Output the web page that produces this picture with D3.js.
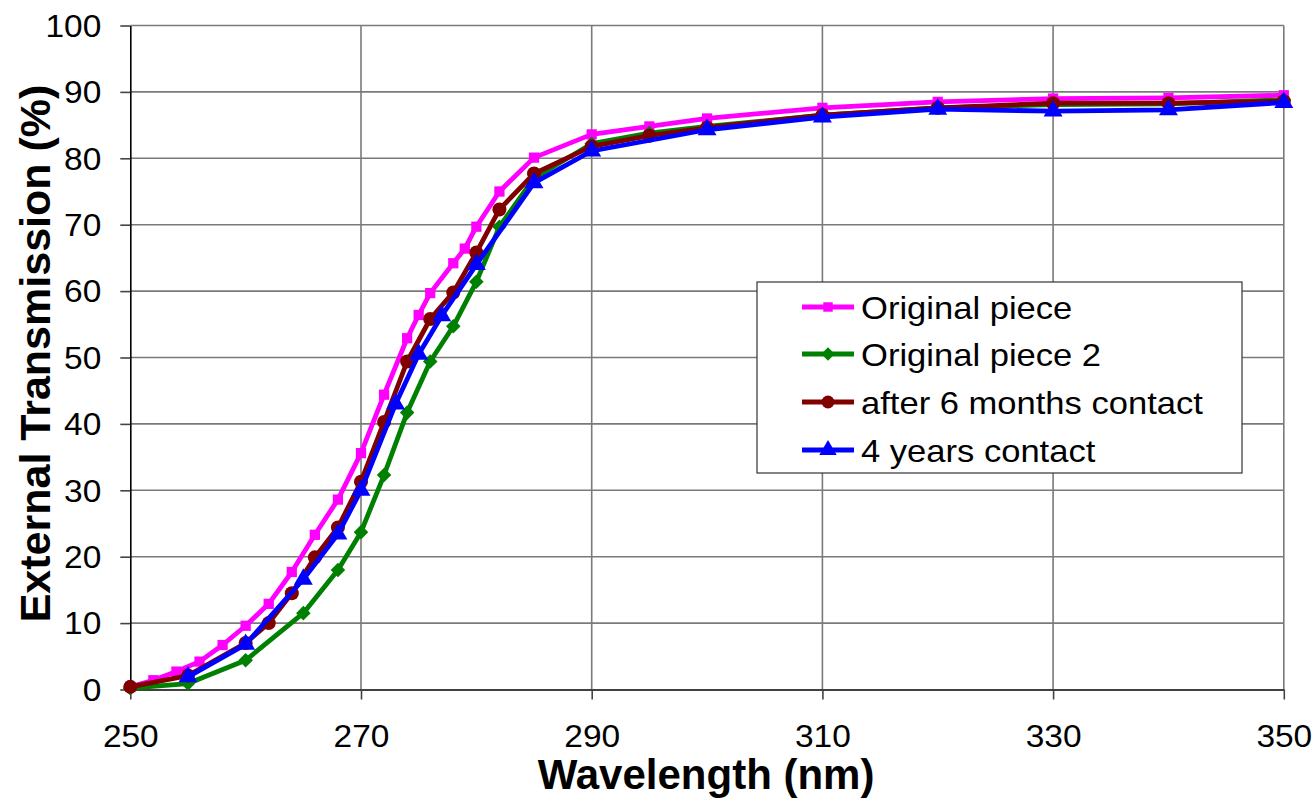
<!DOCTYPE html>
<html>
<head>
<meta charset="utf-8">
<script src="https://cdn.jsdelivr.net/npm/d3@7"></script>
<style>
  html, body { margin: 0; padding: 0; background: #fff; }
  svg { display: block; font-family: "Liberation Sans", Arial, sans-serif; }
</style>
</head>
<body>
<svg id="chart" width="1313" height="798"></svg>
<script>
// Wavelength grids (nm) and transmission values (%) for each sample
const wlOriginal = [250, 252, 254, 256, 258, 260, 262, 264, 266, 268, 270, 272, 274, 275, 276, 278, 279, 280, 282, 285, 290, 295, 300, 310, 320, 330, 340, 350];
const tOriginal  = [0.4, 1.4, 2.7, 4.2, 6.7, 9.6, 12.9, 17.7, 23.3, 28.6, 35.6, 44.4, 52.9, 56.4, 59.7, 64.2, 66.4, 69.7, 75.0, 80.1, 83.6, 84.8, 86.0, 87.6, 88.5, 89.0, 89.1, 89.5];

const wlOriginal2 = [250, 255, 260, 265, 268, 270, 272, 274, 276, 278, 280, 282, 285, 290, 295, 300, 310, 320, 330, 340, 350];
const tOriginal2  = [0.2, 0.9, 4.4, 11.5, 18.0, 23.7, 32.3, 41.7, 49.4, 54.7, 61.4, 69.7, 77.0, 82.2, 83.8, 84.8, 86.5, 87.6, 88.1, 88.2, 88.8];

const wlSixMonths = [250, 255, 260, 262, 264, 266, 268, 270, 272, 274, 276, 278, 280, 282, 285, 290, 295, 300, 310, 320, 330, 340, 350];
const tSixMonths  = [0.4, 2.1, 7.0, 10.0, 14.5, 19.9, 24.4, 31.3, 40.3, 49.4, 55.8, 59.8, 65.8, 72.3, 77.7, 81.8, 83.4, 84.6, 86.5, 87.6, 88.3, 88.3, 88.6];

const wlFourYears = [255, 260, 265, 268, 270, 273, 275, 277, 280, 285, 290, 300, 310, 320, 330, 340, 350];
const tFourYears  = [1.9, 6.8, 16.6, 23.4, 30.0, 43.0, 50.5, 56.3, 64.0, 76.3, 81.1, 84.3, 86.2, 87.4, 87.1, 87.3, 88.4];

const seriesNames = ["Original piece", "Original piece 2", "after 6 months contact", "4 years contact"];
const xTicks = [250, 270, 290, 310, 330, 350];
const yTicks = [0, 10, 20, 30, 40, 50, 60, 70, 80, 90, 100];

const series = [
  { name: seriesNames[0], wl: wlOriginal,  t: tOriginal,  color: "#FF00FF", symbol: d3.symbolSquare,   size: 105 },
  { name: seriesNames[1], wl: wlOriginal2, t: tOriginal2, color: "#008000", symbol: d3.symbolDiamond2, size: 135 },
  { name: seriesNames[2], wl: wlSixMonths, t: tSixMonths, color: "#800000", symbol: d3.symbolCircle,   size: 155 },
  { name: seriesNames[3], wl: wlFourYears, t: tFourYears, color: "#0000FF", symbol: d3.symbolTriangle, size: 155 }
];

const svg = d3.select("#chart");
const plotLeft = 130.3, plotRight = 1283.8, plotTop = 25.5, plotBottom = 689.5;
const textStretch = 1.08; // labels are drawn slightly wide

const x = d3.scaleLinear().domain([250, 350]).range([plotLeft, plotRight]);
const y = d3.scaleLinear().domain([0, 100]).range([plotBottom, plotTop]);

// grid
const grid = svg.append("g").attr("stroke", "#7a7a7a").attr("stroke-width", 1.6);
grid.selectAll("line.h").data(yTicks.filter(v => v > 0)).join("line").attr("class", "h")
  .attr("x1", plotLeft).attr("x2", plotRight).attr("y1", d => y(d)).attr("y2", d => y(d));
grid.selectAll("line.v").data(xTicks.filter(v => v > 250)).join("line").attr("class", "v")
  .attr("x1", d => x(d)).attr("x2", d => x(d)).attr("y1", plotTop).attr("y2", plotBottom);

// axes
const yAxis = svg.append("g").attr("transform", `translate(${plotLeft},0)`)
  .call(d3.axisLeft(y).tickValues(yTicks).tickSize(10).tickPadding(19).tickSizeOuter(0));
const xAxis = svg.append("g").attr("transform", `translate(0,${plotBottom})`)
  .call(d3.axisBottom(x).tickValues(xTicks).tickSize(10).tickPadding(25).tickSizeOuter(0));
[yAxis, xAxis].forEach(a => {
  a.select(".domain").attr("stroke", "#000").attr("stroke-width", 1.6);
  a.selectAll(".tick line").attr("stroke", "#444").attr("stroke-width", 1.6);
  a.selectAll(".tick text").attr("font-size", 31).attr("fill", "#000")
    .attr("font-family", "'Liberation Sans', Arial, sans-serif");
});
yAxis.selectAll(".tick text").attr("dy", "0.35em")
  .attr("x", 0).attr("transform", `translate(-29,0) scale(${textStretch},1)`);
xAxis.selectAll(".tick text").attr("transform", `scale(${textStretch},1)`);

// axis titles
svg.append("text").attr("x", (plotLeft + plotRight) / 2 - 1).attr("y", 789)
  .attr("text-anchor", "middle").attr("font-size", 42).attr("font-weight", "bold")
  .text("Wavelength (nm)");
svg.append("text").attr("transform", `translate(50,${(plotTop + plotBottom) / 2 - 4}) rotate(-90)`)
  .attr("text-anchor", "middle").attr("font-size", 43).attr("font-weight", "bold")
  .text("External Transmission (%)");

// series lines and markers
const line = d3.line().x(d => x(d[0])).y(d => y(d[1]));
series.forEach(s => {
  const pts = s.wl.map((w, i) => [w, s.t[i]]);
  const g = svg.append("g");
  g.append("path").datum(pts).attr("d", line)
    .attr("fill", "none").attr("stroke", s.color).attr("stroke-width", 4.8)
    .attr("stroke-linejoin", "round");
  g.selectAll("path.m").data(pts).join("path").attr("class", "m")
    .attr("transform", d => `translate(${x(d[0])},${y(d[1])})`)
    .attr("d", d3.symbol().type(s.symbol).size(s.size))
    .attr("fill", s.color);
});

// legend
const lg = svg.append("g");
lg.append("rect").attr("x", 757).attr("y", 282).attr("width", 485).attr("height", 191)
  .attr("fill", "#fff").attr("stroke", "#333").attr("stroke-width", 1.2);
const rows = [307, 354, 402, 450];
series.forEach((s, i) => {
  const yy = rows[i];
  lg.append("line").attr("x1", 802).attr("x2", 854).attr("y1", yy).attr("y2", yy)
    .attr("stroke", s.color).attr("stroke-width", 4.8);
  lg.append("path").attr("transform", `translate(828,${yy})`)
    .attr("d", d3.symbol().type(s.symbol).size(s.size * 0.85)).attr("fill", s.color);
  lg.append("text").attr("transform", `translate(861,${yy + 11.5}) scale(${textStretch},1)`)
    .attr("font-size", 32).text(s.name);
});
</script>
</body>
</html>
